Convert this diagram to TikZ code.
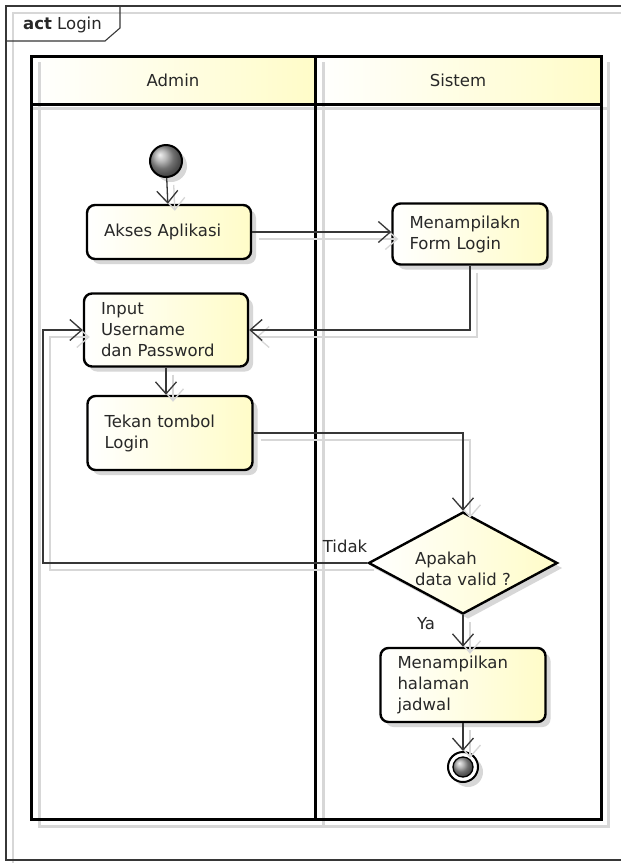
\documentclass[tikz,border=0pt]{standalone}
\usepackage{fontspec}
\setmainfont{DejaVu Sans}
\usetikzlibrary{arrows.meta,shapes.geometric,shadows,calc}
\definecolor{ylw}{RGB}{255,252,200}
\definecolor{linec}{RGB}{55,55,55}
\definecolor{ghostc}{RGB}{215,215,215}
\definecolor{txt}{RGB}{40,40,40}
\tikzset{
  every node/.style={font=\fontsize{16.5}{21}\selectfont, text=txt},
  actbox/.style={draw=black, line width=2.4pt, rounded corners=8pt,
    left color=white, right color=ylw, align=left, inner xsep=17pt,
    inner ysep=0pt,
    drop shadow={shadow xshift=5pt, shadow yshift=-5pt, fill=ghostc, opacity=1}},
  conn/.style={draw=linec, line width=1.3pt,
    -{Straight Barb[length=12pt,width=21pt,line width=1.3pt]},
    preaction={draw=ghostc, line width=1.3pt,
      transform canvas={shift={(7pt,-7pt)}}}},
  plainlbl/.style={inner sep=0pt}
}
\begin{document}
\begin{tikzpicture}[x=1pt,y=-1pt]
\useasboundingbox (0,0) rectangle (621,863);
\clip (0,0) rectangle (621,863);
\fill[white] (0,0) rectangle (621,863);

% frame shadow
\draw[ghostc, line width=1.2pt] (640,13) -- (13,13) -- (13,870);
% frame
\draw[linec, line width=1.1pt] (640,6) -- (6,6) -- (6,860) -- (640,860);
\draw[linec, line width=1.1pt] (6,41) -- (105,41) -- (120,28) -- (120,6);
\node[plainlbl, anchor=west] (title) at (23,25) {\textbf{act} Login};

% lane headers
\shade[left color=white, right color=ylw] (31,56) rectangle (315,104);
\shade[left color=white, right color=ylw] (315,56) rectangle (601,104);
% lane shadows
\draw[ghostc, line width=3pt] (39,62) -- (39,826) -- (608,826) -- (608,62);
\draw[ghostc, line width=3pt] (31,108) -- (608,108);
\draw[ghostc, line width=3pt] (323,62) -- (323,826);
% lanes
\draw[black, line width=3pt] (31,56) rectangle (601,819);
\draw[black, line width=3pt] (31,104) -- (601,104);
\draw[black, line width=3pt] (315,56) -- (315,819);
\node (laneA) at (173,80) {Admin};
\node (laneS) at (458,80) {Sistem};

% nodes
\node[circle, draw=black, line width=2pt, minimum size=32pt, inner sep=0pt,
  shading=ball, ball color=gray!75,
  drop shadow={shadow xshift=5pt, shadow yshift=-5pt, fill=ghostc, opacity=1}]
  (start) at (166,161) {};
\node[actbox, minimum width=164pt, minimum height=54pt, text width=130pt]
  (akses) at (169,232) {Akses Aplikasi};
\node[actbox, minimum width=155pt, minimum height=61pt, text width=121pt]
  (form) at (470,234) {Menampilakn\\Form Login};
\node[actbox, minimum width=164pt, minimum height=73pt, text width=130pt]
  (input) at (166,330) {Input\\Username\\dan Password};
\node[actbox, minimum width=165pt, minimum height=74pt, text width=131pt]
  (tekan) at (170,433) {Tekan tombol\\Login};
\node[diamond, draw=black, line width=2.4pt, minimum width=189pt,
  minimum height=102pt, inner sep=0pt, left color=white, right color=ylw,
  drop shadow={shadow xshift=5pt, shadow yshift=-5pt, fill=ghostc, opacity=1}]
  (dia) at (463,563) {};
\node[plainlbl, align=left] (diatext) at (463,569) {Apakah\\data valid ?};
\node[actbox, minimum width=165pt, minimum height=74pt, text width=131pt]
  (jadwal) at (463,685) {Menampilkan\\halaman\\jadwal};
\node[circle, draw=black, line width=2pt, fill=white, minimum size=30pt,
  inner sep=0pt,
  drop shadow={shadow xshift=5pt, shadow yshift=-5pt, fill=ghostc, opacity=1}]
  (end) at (463,767) {};
\node[circle, draw=black, line width=1.3pt, minimum size=20pt, inner sep=0pt,
  shading=ball, ball color=gray!75] (endin) at (end) {};

\coordinate (loopL) at (43,563);

% connectors
\draw[conn] (start) -- (akses);
\draw[conn] (akses.east) -- (akses.east -| form.west);
\draw[conn] (form.south) |- (input.east);
\draw[conn] (input.south) -- (input.south |- tekan.north);
\draw[conn] (tekan.east) -| (dia.north);
\draw[conn] (dia.west) -- (dia.west -| loopL) |- (input.west);
\draw[conn] (dia.south) -- (jadwal.north);
\draw[conn] (jadwal.south) -- (end);

\node[plainlbl] (tidak) at (345,546) {Tidak};
\node[plainlbl] (ya) at (426,624) {Ya};
\end{tikzpicture}
\end{document}
